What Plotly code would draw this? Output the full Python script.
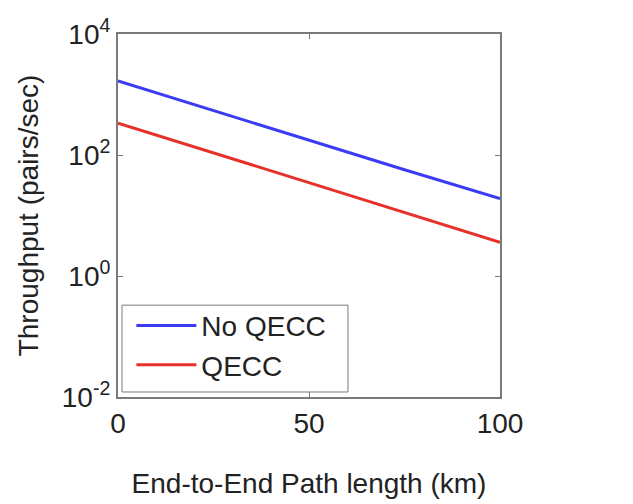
import plotly.graph_objects as go

# Data
path_km = [0, 25, 50, 75, 100]
no_qecc = [1670, 540, 176, 57, 19]
qecc = [337, 109, 35, 11.3, 3.6]

x_ticks = [0, 50, 100]
y_ticks = [0.01, 1, 100, 10000]
y_tick_text = ["10<sup>-2</sup>", "10<sup>0</sup>", "10<sup>2</sup>", "10<sup>4</sup>"]

FONT = "Liberation Sans, Arial, sans-serif"
AX = "#7a7a7a"

fig = go.Figure()
fig.add_trace(go.Scatter(x=path_km, y=no_qecc, mode="lines", name="No QECC",
                         line=dict(color="#3b3bf5", width=3)))
fig.add_trace(go.Scatter(x=path_km, y=qecc, mode="lines", name="QECC",
                         line=dict(color="#e8302a", width=3)))

fig.update_layout(
    width=633, height=504,
    margin=dict(l=110, r=141, t=26, b=115, autoexpand=False),
    paper_bgcolor="white", plot_bgcolor="white",
    font=dict(family=FONT, size=28, color="#222222"),
    showlegend=True,
    legend=dict(x=0.035, y=0.02, xanchor="left", yanchor="bottom",
                bgcolor="rgba(0,0,0,0)", borderwidth=0,
                font=dict(size=28), tracegroupgap=0, itemwidth=60),
    shapes=[dict(type="rect", xref="paper", yref="paper",
                 x0=0.0105, x1=0.602, y0=0.0138, y1=0.253,
                 line=dict(color=AX, width=1), fillcolor="white", layer="below")],
)
fig.update_xaxes(
    range=[0, 100], tickvals=x_ticks, ticks="inside", ticklen=5, tickcolor=AX,
    showline=True, linecolor=AX, linewidth=2, mirror="ticks", showgrid=False,
    zeroline=False, tickfont=dict(size=28), automargin=False,
    title=dict(text="End-to-End Path length (km)", font=dict(size=28), standoff=36),
)
fig.update_yaxes(
    type="log", range=[-2, 4], tickvals=y_ticks, ticktext=y_tick_text,
    ticks="inside", ticklen=5, tickcolor=AX,
    showline=True, linecolor=AX, linewidth=2, mirror="ticks", showgrid=False,
    zeroline=False, tickfont=dict(size=28), automargin=False,
    title=dict(text="Throughput (pairs/sec)", font=dict(size=28), standoff=15),
)

fig.write_html("out.html")
